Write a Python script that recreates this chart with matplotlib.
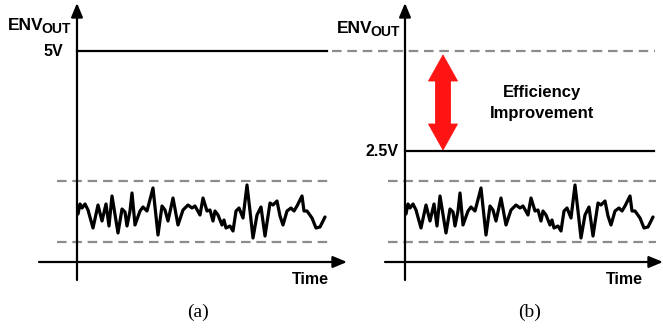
import matplotlib.pyplot as plt
from matplotlib.patches import FancyArrow

plt.rcParams['font.family'] = ['Liberation Sans', 'DejaVu Sans']

# Envelope signal (same in both panels), time vs level
noise_t = [1, 3, 5, 8, 11, 16, 21, 25, 29, 32, 35, 41, 45, 48, 50, 53, 55, 58, 63, 66,
           70, 76, 81, 85, 88, 91, 96, 101, 106, 111, 115, 118, 123, 126, 130, 133, 136, 138, 141, 145,
           147, 149, 153, 156, 159, 162, 166, 170, 173, 176, 180, 184, 188, 193, 196, 200, 203, 206, 210, 214,
           217, 220, 225, 227, 230, 235, 239, 243, 248]
noise_v = [48, 58, 54, 58, 52, 34, 57, 41, 58, 36, 66, 29, 53, 50, 36, 51, 69, 37, 51, 55,
           51, 74, 27, 56, 52, 41, 64, 37, 52, 57, 54, 56, 47, 64, 51, 52, 41, 51, 47, 37,
           42, 34, 36, 31, 51, 54, 44, 77, 51, 24, 47, 55, 26, 59, 57, 61, 46, 37, 51, 54,
           51, 56, 66, 51, 51, 44, 34, 35, 45]

supply_levels = [211, 111]          # 5V, 2.5V
supply_labels = ['5V', '2.5V']
band = [81, 20]                      # envelope max / min
panel_labels = ['(a)', '(b)']

fig = plt.figure(figsize=(6.63, 3.28), dpi=100)
ax_a = fig.add_axes([0, 0, 331 / 663, 1])
ax_b = fig.add_axes([331 / 663, 0, 332 / 663, 1])
ax_a.set_xlim(-77, 254)
ax_b.set_xlim(-74, 258)

dash_kw = dict(color='#8c8c8c', lw=1.6, dashes=(4.3, 2.6), clip_on=False)
arrow_kw = dict(arrowstyle='-|>,head_length=0.6,head_width=0.25', lw=1.6,
                color='black', mutation_scale=14, shrinkA=0, shrinkB=0)
bold = dict(fontweight='bold', fontsize=11.5)

settings = [(ax_a, panel_labels[0], -38, 270, 233, 121, -69, 232, -20),
            (ax_b, panel_labels[1], -20, 258, 219, 125, -68, 229, -17)]
for ax, lab, x0, x1, tlabel_x, tc, env_x, env_y, lo in settings:
    ax.set_ylim(-66, 262)
    ax.axis('off')
    # axes arrows
    ax.annotate('', xy=(0, 259), xytext=(0, -18), arrowprops=arrow_kw,
                annotation_clip=False)
    ax.annotate('', xy=(x1, 0), xytext=(x0, 0), arrowprops=arrow_kw,
                annotation_clip=False)
    ax.text(env_x, env_y, 'ENV', ha='left', va='baseline',
            fontweight='bold', fontsize=12.5)
    ax.text(env_x + 33, env_y - 3, 'OUT', ha='left', va='baseline',
            fontweight='bold', fontsize=10)
    ax.text(tlabel_x, -17, 'Time', ha='center', va='center', **bold)
    ax.text(tc, -50, lab, ha='center', va='center', fontsize=14,
            family='Liberation Serif')
    ax.plot(noise_t, noise_v, color='black', lw=2.3, solid_joinstyle='round',
            solid_capstyle='round')
    for b in band:
        ax.plot([lo, 251], [b, b], **dash_kw)

# panel (a): fixed 5V supply
ax_a.plot([0, 250], [supply_levels[0]] * 2, color='black', lw=1.6)
ax_a.text(-14, supply_levels[0], supply_labels[0], ha='right', va='center', **bold)

# panel (b): reduced 2.5V supply, old level dashed
ax_b.plot([-73, 250], [supply_levels[0]] * 2, **dash_kw)
ax_b.plot([0, 249], [supply_levels[1]] * 2, color='black', lw=1.6)
ax_b.text(-7, supply_levels[1], supply_labels[1], ha='right', va='center', **bold)

mid = (supply_levels[0] - 4 + supply_levels[1] + 1) / 2
half = (supply_levels[0] - 4 - supply_levels[1] - 1) / 2
for d in (half, -half):
    ax_b.add_patch(FancyArrow(38, mid, 0, d, width=15, head_width=29, head_length=26,
                              length_includes_head=True, facecolor='#ff1414',
                              edgecolor='#ff1414', lw=0.6))
ax_b.text(137, 159, 'Efficiency\nImprovement', ha='center', va='center',
          linespacing=1.45, fontweight='bold', fontsize=12)

fig.savefig('out.png', dpi=100)
